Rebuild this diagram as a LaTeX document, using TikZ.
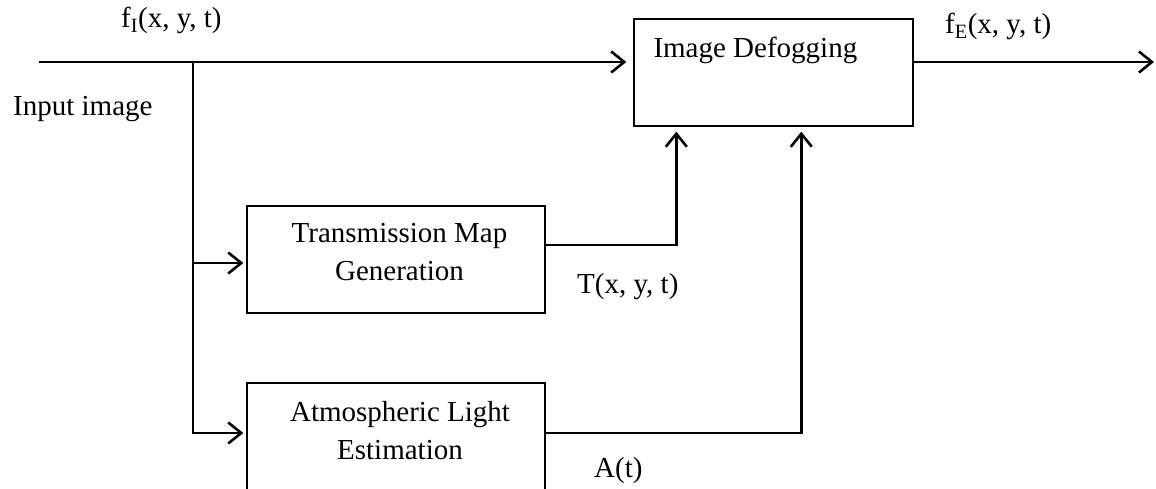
\documentclass[tikz,border=0pt]{standalone}
\usepackage{fontspec}
\setmainfont{Liberation Serif}
\usepackage{tikz}
\usetikzlibrary{arrows.meta}
\usetikzlibrary{positioning}

\tikzset{
  block/.style={draw, line width=1.4pt, minimum width=298pt, minimum height=107pt, inner sep=0pt},
  blocktext/.style={align=center, inner sep=0pt},
  lbl/.style={anchor=base west, inner sep=0pt},
  conn/.style={line width=2.6pt, -{Straight Barb[length=13pt,width=21pt]}, shorten >=5pt},
}

\begin{document}
\begin{tikzpicture}[x=1pt,y=-1pt,font=\fontsize{29pt}{38pt}\selectfont]

\useasboundingbox (0,0) rectangle (1156,489);

\node[block, minimum width=279pt] (defog) at (773.5,72.5) {};
\node[block] (trans) at (396,259.5) {};
\node[block] (atmos) at (396,436.5) {};

\node[lbl] (defogtxt) at ([xshift=20pt,yshift=-39pt]defog.north west) {Image Defogging};
\node[blocktext] (transtxt) at ([xshift=3.5pt,yshift=7pt]trans.center) {Transmission Map\\Generation};
\node[blocktext] (atmostxt) at ([xshift=4pt,yshift=5.5pt]atmos.center) {Atmospheric Light\\Estimation};

\coordinate (inp) at (39,62);
\coordinate (vtop) at (193,62);
\coordinate (outp) at (1154,62);
\coordinate (tin) at ([yshift=-3.5pt]trans.west);
\coordinate (ain) at ([yshift=3.5pt]atmos.west);
\coordinate (tout) at ([yshift=14.5pt]trans.east);
\coordinate (aout) at ([yshift=3.5pt]atmos.east);
\coordinate (tup) at ([xshift=43pt]defog.south west);
\coordinate (aup) at ([xshift=168pt]defog.south west);

\draw[conn, shorten >=7pt] (inp) -- (inp -| defog.west);
\draw[conn, shorten >=0pt] (inp -| defog.east) -- (outp);

\draw[conn, shorten >=3pt] (vtop) |- (ain);
\draw[conn, shorten >=3pt] (vtop |- tin) -- (tin);

\draw[conn] (tout) -| (tup);
\draw[conn] (aout) -| (aup);

\node[lbl] (finlbl) at (121,28) {f\textsubscript{I}(x, y, t)};
\node[lbl] (foutlbl) at (945,34) {f\textsubscript{E}(x, y, t)};
\node[lbl] (inlbl) at (13,116) {Input image};
\node[lbl] (tlbl) at (577,293) {T(x, y, t)};
\node[lbl] (albl) at (594,477) {A(t)};

\end{tikzpicture}
\end{document}
